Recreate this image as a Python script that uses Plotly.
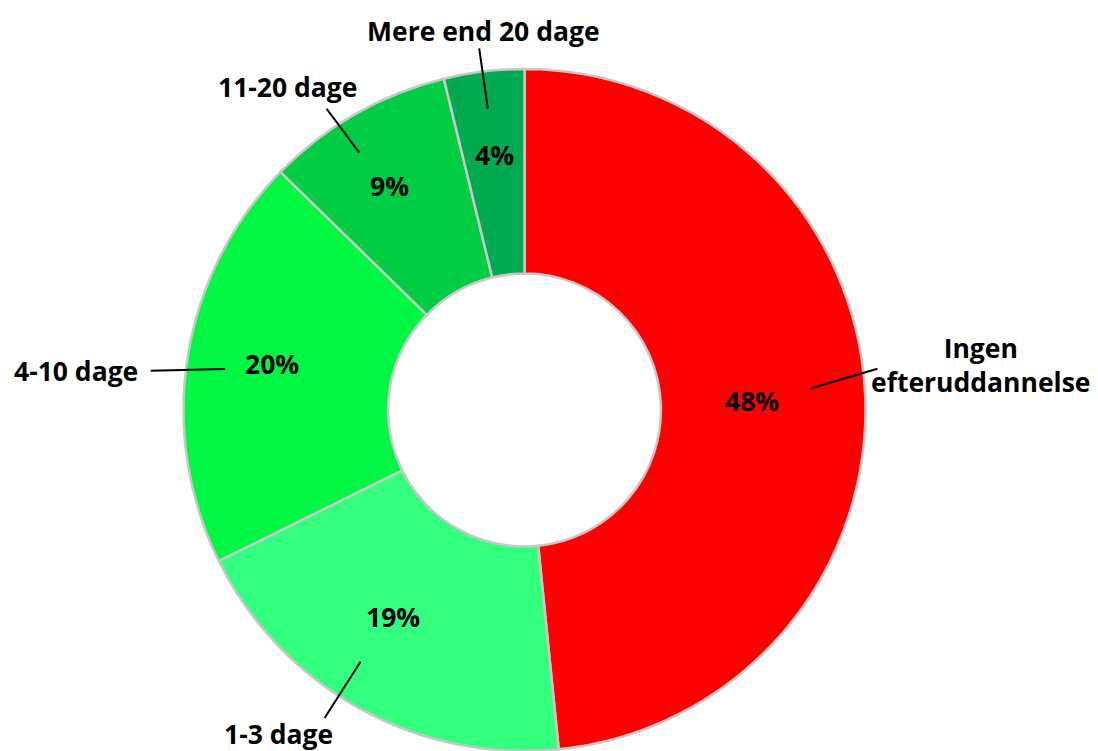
import math
import plotly.graph_objects as go

# ---- data ----
categories = ["Ingen efteruddannelse", "1-3 dage", "4-10 dage", "11-20 dage", "Mere end 20 dage"]
label_texts = ["Ingen<br>efteruddannelse", "1-3 dage", "4-10 dage", "11-20 dage", "Mere end 20 dage"]
values = [48.4, 19.3, 19.6, 8.9, 3.8]

# ---- styles / layout ----
colors = ["#FF0000", "#33FF7F", "#00F744", "#00CC44", "#00AA50"]
W, H = 1098, 751
CX, CY, R = 524.5, 410.0, 341.0
HOLE = 0.40
FONT = "Open Sans"
FS = 26.5

# percent label: (angle offset deg, radius fraction)
pct_pos = [(0.5, 0.669), (3.4, 0.719), (1.4, 0.753), (-1.5, 0.767), (0.2, 0.752)]
# leader line: (inner angle offset, inner r, outer angle offset, outer r)
lead = [(-1.4, 0.842, -3.8, 1.042),
        (4.1, 0.881, 4.0, 1.077),
        (-1.2, 0.886, -3.0, 1.102),
        (-3.0, 0.898, -3.6, 1.057),
        (-0.1, 0.890, -0.3, 1.069)]
# category label relative to outer end of leader: (dx px, dy px, xanchor)
lab_off = [(215, -4, "right"), (-46, 16, "center"), (-11, 0, "right"),
           (-39, -22, "center"), (4, -17, "center")]

total = sum(values)
cum = 0.0
mids = []
pcts = []
for v in values:
    mids.append((cum + v / 2) / total * 360.0)
    cum += v
    pcts.append(v / total)


def polar(theta_deg, rf):
    t = math.radians(theta_deg)
    return CX + rf * R * math.sin(t), CY - rf * R * math.cos(t)


def paper(px, py):
    return px / W, 1 - py / H


fig = go.Figure(go.Pie(
    labels=categories,
    values=values,
    hole=HOLE,
    sort=False,
    direction="clockwise",
    rotation=0,
    marker=dict(colors=colors, line=dict(color="#C8C8C8", width=2.5)),
    textinfo="none",
    hoverinfo="label+percent",
    showlegend=False,
    domain=dict(x=[(CX - R) / W, (CX + R) / W], y=[(H - CY - R) / H, (H - CY + R) / H]),
))

annotations = []
shapes = []
for i, m in enumerate(mids):
    da, rf = pct_pos[i]
    x, y = paper(*polar(m + da, rf))
    annotations.append(dict(x=x, y=y, xref="paper", yref="paper",
                            text="<b>%d%%</b>" % round(pcts[i] * 100), showarrow=False,
                            font=dict(family=FONT, size=FS, color="#000000"),
                            xanchor="center", yanchor="middle"))
    a1, r1, a2, r2 = lead[i]
    p1 = polar(m + a1, r1)
    p2 = polar(m + a2, r2)
    x1, y1 = paper(*p1)
    x2, y2 = paper(*p2)
    shapes.append(dict(type="line", xref="paper", yref="paper", x0=x1, y0=y1, x1=x2, y1=y2,
                       line=dict(color="#000000", width=2)))
    dx, dy, xa = lab_off[i]
    lx, ly = paper(p2[0] + dx, p2[1] + dy)
    annotations.append(dict(x=lx, y=ly, xref="paper", yref="paper",
                            text="<b>%s</b>" % label_texts[i], showarrow=False,
                            font=dict(family=FONT, size=FS, color="#000000"),
                            xanchor=xa, yanchor="middle", align="center"))

fig.update_layout(
    width=W, height=H,
    margin=dict(l=0, r=0, t=0, b=0),
    paper_bgcolor="#FFFFFF",
    plot_bgcolor="#FFFFFF",
    annotations=annotations,
    shapes=shapes,
)

fig.write_html("out.html",
               config={"displayModeBar": False},
               post_script="document.body.style.margin='0';document.body.style.overflow='hidden';")
